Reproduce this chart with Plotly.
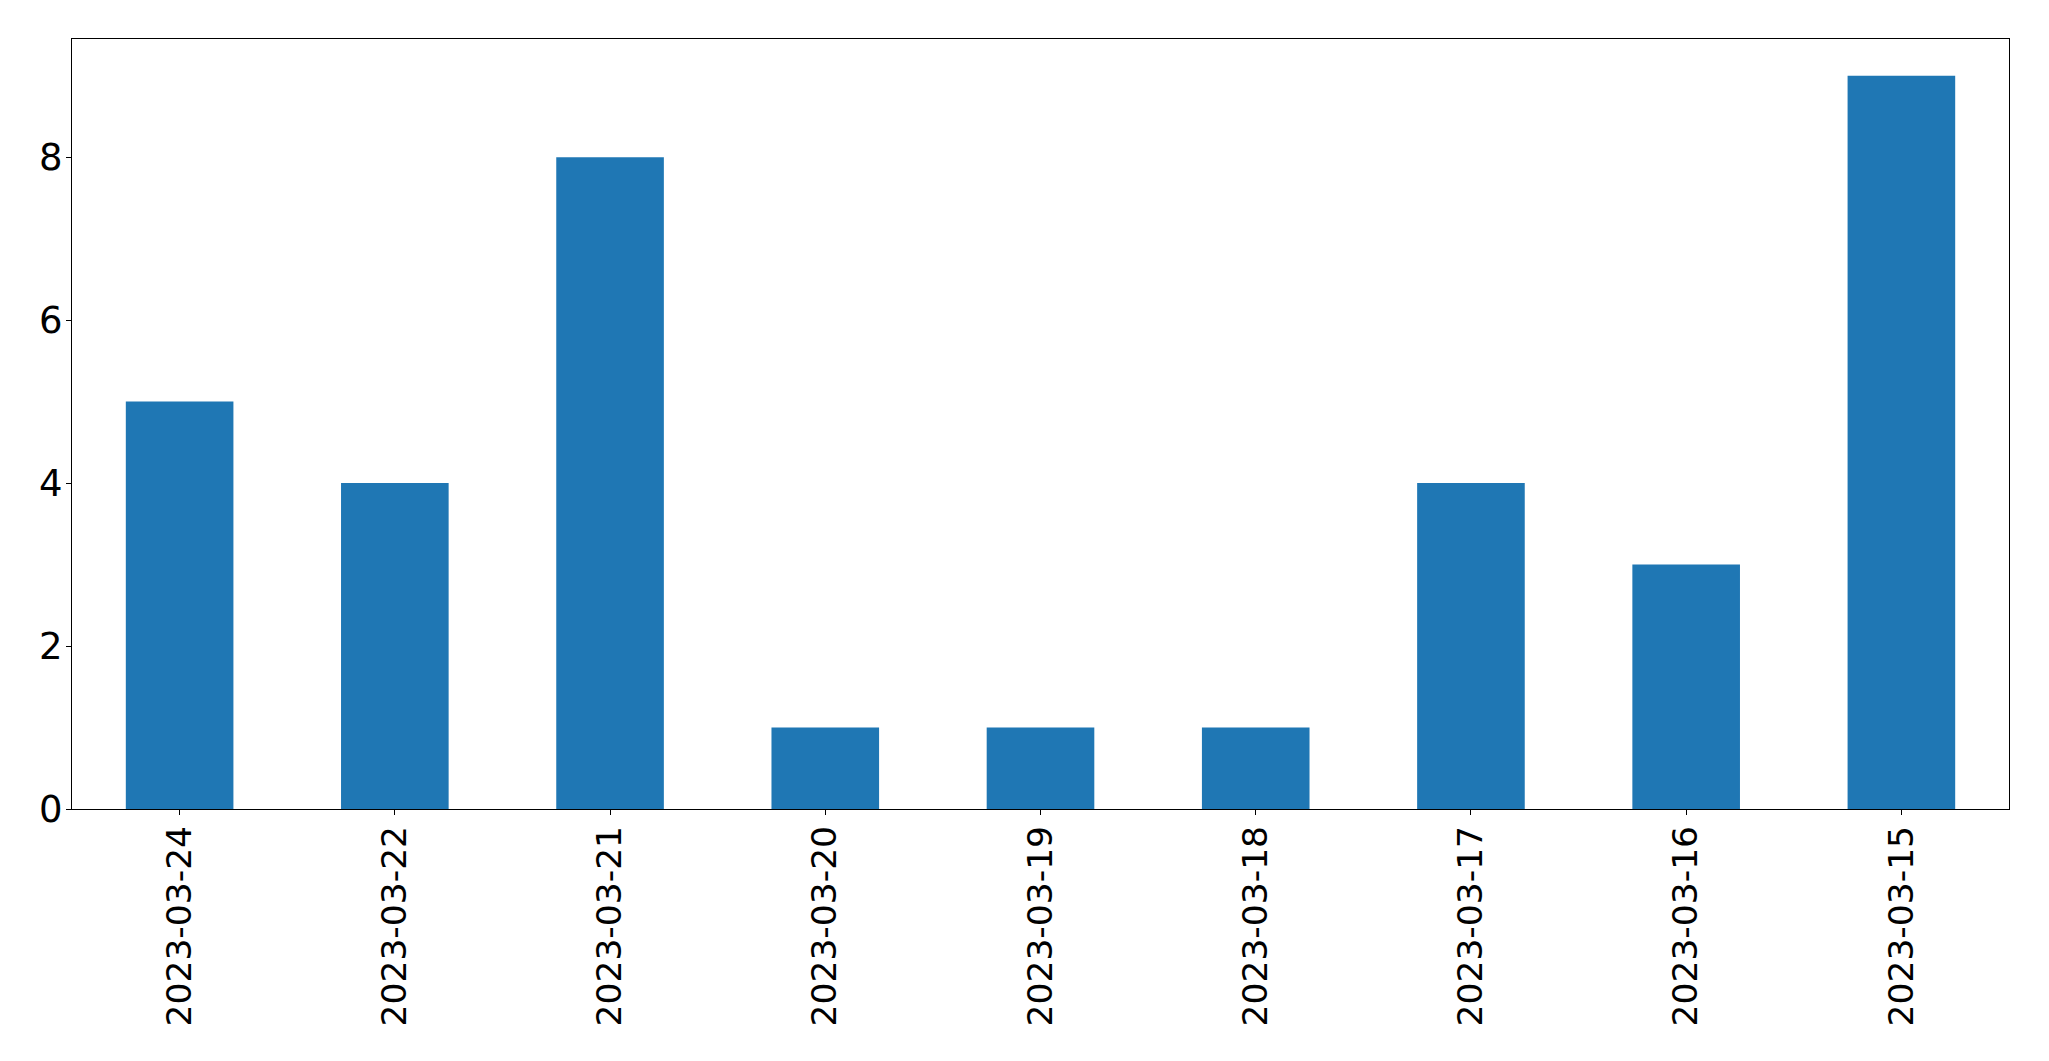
import plotly.graph_objects as go

dates = ["2023-03-24", "2023-03-22", "2023-03-21", "2023-03-20", "2023-03-19",
         "2023-03-18", "2023-03-17", "2023-03-16", "2023-03-15"]
counts = [5, 4, 8, 1, 1, 1, 4, 3, 9]
y_ticks = [0, 2, 4, 6, 8]

fig = go.Figure(go.Bar(x=dates, y=counts, marker_color="#1f77b4", width=0.5,
                       marker_line_width=0))

xfont = dict(family="DejaVu Sans", size=34.5, color="black")
yfont = dict(family="DejaVu Sans", size=37, color="black")
# page body has an 8px default margin; compensate so the plot area lands at (72, 39)
fig.update_layout(
    width=2049, height=1061,
    margin=dict(l=64, r=48, t=31, b=260, autoexpand=False),
    plot_bgcolor="white", paper_bgcolor="white",
    showlegend=False,
    font=xfont,
)
fig.update_xaxes(type="category", range=[-0.5, 8.5], tickangle=-90, automargin=False,
                 showline=True, linecolor="black", linewidth=1.3, mirror=True,
                 ticks="outside", ticklen=5, tickwidth=1.3, tickcolor="black",
                 showgrid=False, tickfont=xfont, ticklabelstandoff=-3)
fig.update_yaxes(range=[0, 9.45], tickvals=y_ticks, automargin=False,
                 showline=True, linecolor="black", linewidth=1.3, mirror=True,
                 ticks="outside", ticklen=5, tickwidth=1.3, tickcolor="black",
                 showgrid=False, zeroline=False, tickfont=yfont, ticklabelstandoff=-4)
fig.write_html("out.html")
